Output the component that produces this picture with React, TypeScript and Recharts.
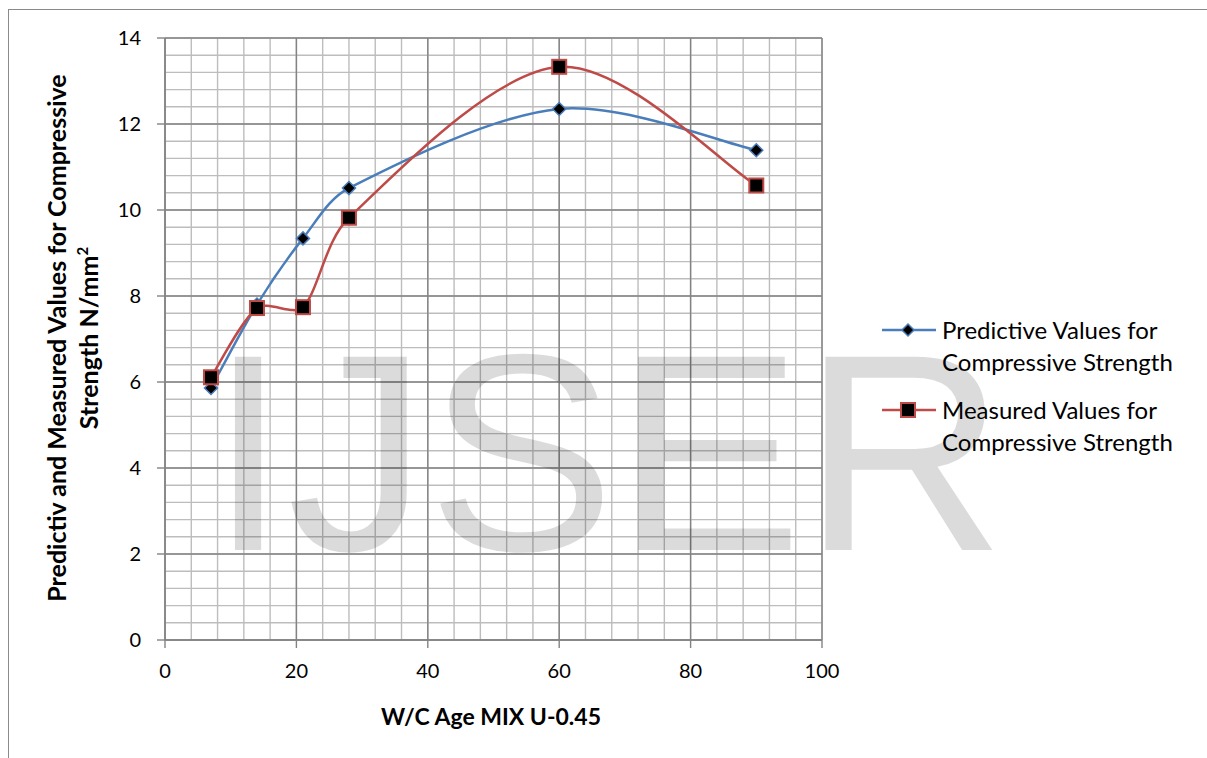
import { LineChart, Line, XAxis, YAxis, CartesianGrid } from 'recharts';

const ages = [7, 14, 21, 28, 60, 90];
const predicted = [5.86, 7.8, 9.34, 10.51, 12.35, 11.39];
const measured = [6.11, 7.72, 7.74, 9.82, 13.33, 10.57];

const xTicks = [0, 20, 40, 60, 80, 100];
const yTicks = [0, 2, 4, 6, 8, 10, 12, 14];
const xMinor = [0, 4, 8, 12, 16, 20, 24, 28, 32, 36, 40, 44, 48, 52, 56, 60, 64, 68, 72, 76, 80, 84, 88, 92, 96, 100];
const yMinor = [0, 0.4, 0.8, 1.2, 1.6, 2, 2.4, 2.8, 3.2, 3.6, 4, 4.4, 4.8, 5.2, 5.6, 6, 6.4, 6.8, 7.2, 7.6, 8, 8.4, 8.8, 9.2, 9.6, 10, 10.4, 10.8, 11.2, 11.6, 12, 12.4, 12.8, 13.2, 13.6, 14];

const data = ages.map((age, i) => ({ age, predicted: predicted[i], measured: measured[i] }));

const BLUE = '#4A7EBB';
const RED = '#BE4B48';
const FONT = 'Lato, "Open Sans", sans-serif';

// excel style smoothing: catmull-rom handles (1/6), shortened when neighbour segments are much longer
const dist = (a: number[], b: number[]) => Math.hypot(b[0] - a[0], b[1] - a[1]);

class ExcelCurve {
  ctx: any;
  pts: number[][] = [];
  constructor(ctx: any) { this.ctx = ctx; }
  areaStart() {}
  areaEnd() {}
  lineStart() { this.pts = []; }
  point(x: number, y: number) { this.pts.push([+x, +y]); }
  lineEnd() {
    const p = this.pts;
    if (!p.length) return;
    this.ctx.moveTo(p[0][0], p[0][1]);
    for (let i = 0; i < p.length - 1; i++) {
      const p0 = p[Math.max(i - 1, 0)];
      const p1 = p[i];
      const p2 = p[i + 1];
      const p3 = p[Math.min(i + 2, p.length - 1)];
      const d0 = dist(p0, p1);
      const d1 = dist(p1, p2);
      const d2 = dist(p2, p3);
      const s1 = Math.min(1, (2 * d1) / (d0 + d1 || 1));
      const s2 = Math.min(1, (2 * d1) / (d1 + d2 || 1));
      this.ctx.bezierCurveTo(
        p1[0] + ((p2[0] - p0[0]) * s1) / 6, p1[1] + ((p2[1] - p0[1]) * s1) / 6,
        p2[0] - ((p3[0] - p1[0]) * s2) / 6, p2[1] - ((p3[1] - p1[1]) * s2) / 6,
        p2[0], p2[1]
      );
    }
  }
}
const excelSmooth: any = (ctx: any) => new ExcelCurve(ctx);

const Diamond = (props: any) => {
  const { cx, cy } = props;
  if (cx == null || cy == null) return null;
  const r = 6.5;
  return <path d={`M${cx},${cy - r}L${cx + r},${cy}L${cx},${cy + r}L${cx - r},${cy}Z`} fill="#000" stroke={BLUE} strokeWidth={1.5} />;
};

const Square = (props: any) => {
  const { cx, cy } = props;
  if (cx == null || cy == null) return null;
  return <rect x={cx - 7} y={cy - 7} width={14} height={14} fill="#000" stroke={RED} strokeWidth={2} />;
};

const legendItems = [
  { color: BLUE, marker: 'diamond', lines: ['Predictive Values for', 'Compressive Strength'] },
  { color: RED, marker: 'square', lines: ['Measured Values for', 'Compressive Strength'] },
];

const ChartLegend = () => (
  <div style={{ position: 'absolute', left: 882, top: 314, fontFamily: FONT, fontSize: 24, color: '#000' }}>
    {legendItems.map((it) => (
      <div key={it.lines[0]} style={{ display: 'flex', alignItems: 'flex-start', marginBottom: 16 }}>
        <svg width={56} height={32} style={{ flex: 'none', marginRight: 4 }}>
          <line x1={0} y1={16} x2={54} y2={16} stroke={it.color} strokeWidth={2.5} />
          {it.marker === 'diamond'
            ? <path d="M26,10L32,16L26,22L20,16Z" fill="#000" stroke={it.color} strokeWidth={1.5} />
            : <rect x={19} y={9} width={14} height={14} fill="#000" stroke={it.color} strokeWidth={2} />}
        </svg>
        <div style={{ lineHeight: '32px', whiteSpace: 'nowrap' }}>
          {it.lines.map((l) => <div key={l}>{l}</div>)}
        </div>
      </div>
    ))}
  </div>
);

const tickStyle = { fill: '#000', fontSize: 20, fontFamily: FONT };

export default function App() {
  return (
    <div style={{ position: 'fixed', left: 0, top: 0, width: 1207, height: 758, background: '#fff', overflow: 'hidden', fontFamily: FONT }}>
      <div style={{ position: 'absolute', left: 8, top: 9, width: 1400, height: 900, borderLeft: '1.5px solid #8a8a8a', borderTop: '1.5px solid #8a8a8a' }} />
      <div style={{ position: 'absolute', left: 0, top: 0 }}>
        <LineChart width={1207} height={758} data={data} margin={{ top: 38, right: 385, bottom: 88, left: 105 }}>
          <XAxis xAxisId="minor" type="number" dataKey="age" domain={[0, 100]} ticks={xMinor} interval={0} hide />
          <YAxis yAxisId="minor" type="number" dataKey="measured" domain={[0, 14]} ticks={yMinor} interval={0} allowDataOverflow hide />
          <CartesianGrid xAxisId="minor" yAxisId="minor" stroke="#bdbdbd" strokeWidth={1.4} />
          <CartesianGrid stroke="#838383" strokeWidth={1.4} />
          <XAxis
            type="number"
            dataKey="age"
            domain={[0, 100]}
            ticks={xTicks}
            interval={0}
            height={30}
            tick={tickStyle}
            tickSize={8}
            tickMargin={16}
            axisLine={{ stroke: '#838383', strokeWidth: 1.4 }}
            tickLine={{ stroke: '#838383', strokeWidth: 1.4 }}
          />
          <YAxis
            type="number"
            domain={[0, 14]}
            ticks={yTicks}
            interval={0}
            width={60}
            tick={tickStyle}
            tickSize={8}
            tickMargin={16}
            axisLine={{ stroke: '#838383', strokeWidth: 1.4 }}
            tickLine={{ stroke: '#838383', strokeWidth: 1.4 }}
          />
          <Line dataKey="predicted" type={excelSmooth} stroke={BLUE} strokeWidth={2.5} dot={<Diamond />} activeDot={false} isAnimationActive={false} />
          <Line dataKey="measured" type={excelSmooth} stroke={RED} strokeWidth={2.5} dot={<Square />} activeDot={false} isAnimationActive={false} />
        </LineChart>
      </div>
      <ChartLegend />
      <div style={{ position: 'absolute', left: 191, top: 700, width: 600, textAlign: 'center', fontWeight: 'bold', fontSize: 23, lineHeight: '32px' }}>
        W/C Age MIX U-0.45
      </div>
      <div style={{ position: 'absolute', left: 72 - 300, top: 338 - 32, width: 600, height: 64, textAlign: 'center', fontWeight: 'bold', fontSize: 25, lineHeight: '32px', transform: 'rotate(-90deg)', transformOrigin: '50% 50%' }}>
        <div>Predictiv and Measured Values for Compressive</div>
        <div>Strength N/mm<sup style={{ fontSize: 15, verticalAlign: 'top', lineHeight: '20px' }}>2</sup></div>
      </div>
      <svg width={1207} height={758} style={{ position: 'absolute', left: 0, top: 0, pointerEvents: 'none' }}>
        <text x={209} y={550} fontFamily='"Liberation Sans", Arial, sans-serif' fontSize={281} fill="rgba(0,0,0,0.14)">IJSER</text>
      </svg>
    </div>
  );
}
